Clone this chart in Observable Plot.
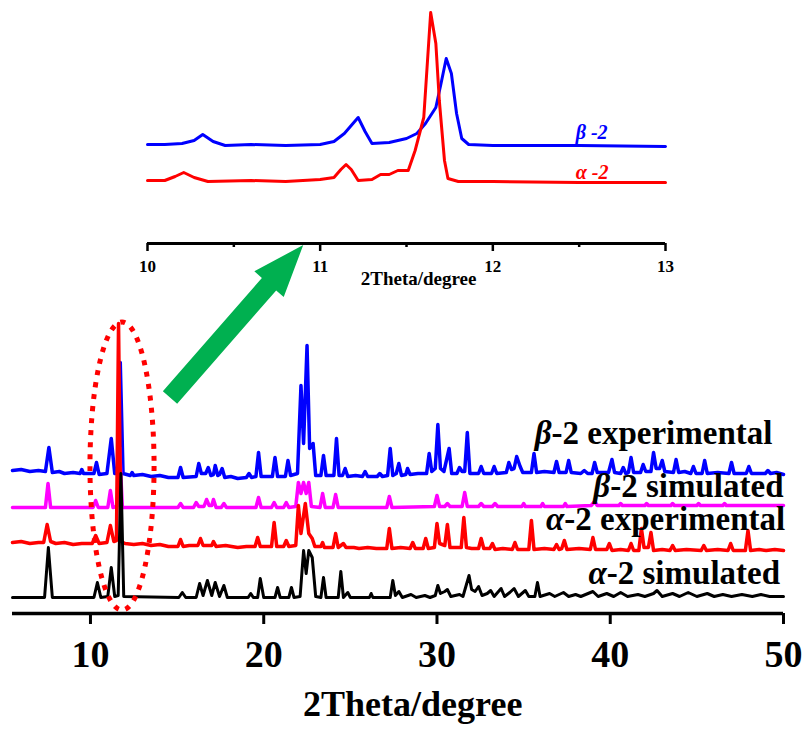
<!DOCTYPE html>
<html><head><meta charset="utf-8">
<script src="https://cdn.jsdelivr.net/npm/d3@7"></script>
<script src="https://cdn.jsdelivr.net/npm/@observablehq/plot@0.6"></script>
<style>
body{margin:0;background:#fff}
#wrap{position:relative;width:806px;height:730px}
#wrap svg{position:absolute;left:0;top:0;overflow:visible}
</style>
</head><body><div id="wrap"></div>
<script>
// ---- main pattern traces: [2Theta, offset intensity] ----
const alphaSim = [[5.5,16],[7.35,16],[7.57,66],[7.8,16],
[10.2,16],[10.4,31],[10.6,16],
[11.0,17],[11.2,46],[11.4,17],[11.6,18],[11.76,140],[11.92,17],
[15.1,16],[15.3,21],[15.5,16],
[16.1,16],[16.3,30],[16.5,18],[16.75,33],[17.0,18],[17.2,31],[17.45,17],[17.7,28],[17.9,16],
[19.1,16],[19.25,20],[19.4,16],[19.65,16],[19.8,35],[20.0,16],
[20.65,16],[20.8,26],[20.95,16],[21.45,16],[21.6,26],[21.75,16],
[22.1,17],[22.3,63],[22.45,40],[22.6,63],[22.8,56],[23.0,17],
[23.3,16],[23.45,36],[23.6,16],
[24.3,16],[24.45,42],[24.6,16],[24.85,21],[25.0,16],
[26.1,16],[26.2,20],[26.3,16],
[27.3,16],[27.45,33],[27.6,18],[27.8,22],[28.0,16],
[28.5,19],[28.8,16],[29.3,18],[29.6,16],
[29.9,18],[30.05,28],[30.2,20],[30.45,22],[30.6,24],[30.8,17],
[31.3,19],[31.5,17],[31.85,38],[32.0,24],[32.2,22],[32.4,27],[32.6,18],
[32.9,20],[33.1,23],[33.3,17],[33.7,25],[33.9,17],[34.2,21],[34.45,25],[34.7,17],[35.1,23],[35.3,17],
[35.65,17],[35.8,31],[35.95,17],
[36.5,20],[36.8,17],[37.3,21],[37.6,17],[38.0,19],[38.3,17],[39.0,22],[39.3,17],[39.8,20],[40.2,17],
[40.6,21],[41.0,17],[41.6,19],[42.0,17],[42.5,20],[42.7,23],[43.0,17],[43.6,20],[44.0,17],[44.5,21],
[45.0,17],[45.6,20],[46.0,17],[46.5,19],[47.0,17],[47.6,19],[48.2,17],[48.7,19],[49.2,17],[50,17]];

const alphaExp = [[5.5,71],[6.0,72],[6.5,70],[7.0,71],[7.3,71],[7.5,89],[7.7,72],[8.0,70],[8.5,71],[9.0,69],[9.5,70],
[10.1,70],[10.3,78],[10.5,70],
[10.95,71],[11.15,88],[11.35,72],[11.5,73],[11.62,290],[11.76,72],
[12.0,70],[12.5,69],[13.0,70],[13.5,68],[14.0,69],[14.5,67],
[15.05,67],[15.2,74],[15.35,67],[15.7,68],
[16.2,68],[16.35,75],[16.5,68],[17.0,68],[17.1,72],[17.25,67],
[17.8,68],[18.5,66],[19.0,67],[19.5,67],[19.65,76],[19.8,67],
[20.45,67],[20.6,91],[20.75,67],
[21.15,67],[21.3,73],[21.45,67],
[21.85,68],[22.0,108],[22.15,80],[22.4,110],[22.6,80],[22.8,75],[22.95,67],
[23.3,67],[23.4,71],[23.5,66],
[24.0,66],[24.15,80],[24.3,66],[24.6,70],[24.75,66],
[25.2,66],[25.5,65],[26.0,66],[26.5,65],
[27.1,65],[27.25,85],[27.4,65],
[27.9,66],[28.45,65],[28.6,71],[28.75,65],
[29.2,65],[29.35,75],[29.5,65],
[29.85,66],[30.0,90],[30.15,70],[30.45,68],[30.6,89],[30.75,66],
[31.1,66],[31.4,66],[31.55,96],[31.7,66],
[32.0,65],[32.4,65],[32.55,75],[32.7,65],[33.05,65],[33.2,70],[33.35,64],
[33.8,65],[34.35,64],[34.5,71],[34.65,64],
[35.3,64],[35.45,93],[35.6,64],
[36.2,65],[36.75,64],[36.9,69],[37.05,64],[37.2,65],[37.35,73],[37.5,64],
[38.2,65],[38.85,64],[39.0,76],[39.15,64],[39.8,64],[39.95,70],[40.1,63],
[40.6,64],[41.05,63],[41.2,70],[41.35,63],
[41.65,63],[41.8,85],[41.95,66],[42.2,66],[42.35,81],[42.5,63],
[43.0,64],[43.45,63],[43.6,68],[43.75,63],
[44.4,64],[45.25,63],[45.4,68],[45.55,63],
[46.2,64],[46.8,63],[46.95,70],[47.1,63],
[47.8,63],[47.95,83],[48.1,63],
[48.6,64],[49,63],[49.5,64],[50,63]];

const betaSim = [[5.5,106],[7.4,106],[7.55,130],[7.7,106],
[10.15,106],[10.3,113],[10.45,106],
[11.0,106],[11.15,123],[11.3,106],[11.52,107],[11.68,166],[11.84,106],
[15.05,106],[15.2,110],[15.35,106],
[15.95,106],[16.1,111],[16.25,107],[16.55,107],[16.7,114],[16.85,108],[17.0,108],[17.1,114],[17.25,106],[17.55,106],[17.7,110],[17.85,106],
[19.55,106],[19.7,116],[19.85,106],
[20.45,106],[20.6,111],[20.75,106],[21.15,106],[21.3,111],[21.45,106],
[21.85,107],[22.0,131],[22.15,120],[22.3,131],[22.45,120],[22.6,131],[22.75,107],
[23.25,106],[23.4,120],[23.55,106],
[24.0,106],[24.15,119],[24.3,106],
[27.1,106],[27.25,117],[27.4,106],
[29.85,107],[30.0,118],[30.15,107],
[30.45,107],[30.6,110],[30.75,107],
[31.45,107],[31.6,121],[31.75,107],
[32.4,107],[32.55,110],[32.7,107],
[33.2,107],[33.35,110],[33.5,107],
[34.9,107],[35.0,110],[35.1,107],
[36.0,107],[36.1,110],[36.2,107],
[37.3,107],[37.4,110],[37.5,107],
[38.9,108],[39.1,112],[39.25,108],
[40.5,108],[40.6,110],[40.7,108],
[42.0,108],[42.1,110],[42.2,108],
[43.5,108],[43.6,110],[43.7,108],
[45.0,108],[45.1,110],[45.2,108],
[46.5,108],[46.6,110],[46.7,108],
[50,108]];

const betaExp = [[5.5,143],[6.0,144],[6.5,142],[7.0,143],[7.4,142],[7.6,166],[7.8,141],
[8.2,142],[8.5,140],[9.0,141],[9.4,140],[9.5,144],[9.6,140],
[10.2,140],[10.35,151],[10.5,139],
[10.95,140],[11.2,175],[11.4,140],[11.56,140],[11.72,251],[11.88,140],
[12.3,138],[12.4,141],[12.5,138],[13.0,139],[13.5,137],[14.0,138],[14.5,136],
[15.05,136],[15.2,146],[15.35,136],
[16.1,137],[16.25,150],[16.4,140],[16.65,140],[16.8,146],[16.95,138],[17.1,139],[17.2,148],[17.35,138],[17.45,139],[17.6,145],[17.75,136],
[18.1,137],[18.5,135],[19.0,136],[19.15,140],[19.3,136],
[19.55,137],[19.7,161],[19.85,137],
[20.5,137],[20.65,156],[20.8,137],
[21.25,137],[21.4,153],[21.55,138],
[21.95,140],[22.15,228],[22.3,170],[22.5,268],[22.65,165],[22.85,170],[23.0,138],
[23.3,138],[23.45,158],[23.6,138],
[24.05,138],[24.2,175],[24.35,138],
[24.55,138],[24.7,145],[24.85,137],
[25.3,138],[25.7,137],[25.85,142],[26.0,137],
[26.55,137],[26.7,140],[26.85,137],
[27.15,138],[27.3,165],[27.45,138],
[27.65,140],[27.8,150],[27.95,138],
[28.2,139],[28.3,145],[28.45,139],
[28.9,140],[29.4,140],[29.55,160],[29.7,142],[29.9,145],[30.05,189],[30.2,145],[30.4,142],[30.7,165],[30.85,140],
[31.15,140],[31.3,146],[31.45,142],[31.6,142],[31.75,181],[31.9,140],
[32.4,140],[32.55,147],[32.7,140],[33.15,140],[33.3,147],[33.45,140],
[34.0,141],[34.15,151],[34.3,144],[34.45,145],[34.6,157],[34.8,147],[34.95,141],
[35.45,141],[35.6,160],[35.75,141],
[36.2,142],[36.75,141],[36.9,152],[37.05,141],
[37.45,141],[37.6,153],[37.75,141],
[38.3,140],[38.5,143],[38.7,140],
[38.95,140],[39.1,151],[39.25,141],
[39.9,141],[40.1,154],[40.25,141],
[40.6,140],[40.75,146],[40.9,140],
[41.05,141],[41.2,156],[41.35,141],[41.75,141],[41.9,149],[42.05,142],
[42.35,142],[42.5,161],[42.65,145],[42.85,145],[43.0,153],[43.15,142],
[43.65,141],[43.8,154],[43.95,141],
[44.3,142],[44.65,140],[44.8,147],[44.95,140],
[45.3,140],[45.45,153],[45.6,140],
[46.2,141],[46.85,140],[47.0,151],[47.15,140],
[47.85,140],[48.0,147],[48.15,140],
[48.95,140],[49.1,143],[49.25,140],[49.6,141],[50,139]];

// ---- inset traces (10-13 degrees) ----
const insetBeta = [[10.0,99],[10.1,99],[10.2,100],[10.27,103],[10.32,109],[10.38,102],[10.45,98],[10.6,99],[10.8,98],
[11.0,99],[11.08,102],[11.14,110],[11.18,118],[11.22,126],[11.26,112],[11.3,100],[11.4,101],[11.5,105],
[11.56,110],[11.61,120],[11.67,136],[11.70,160],[11.73,185],[11.76,170],[11.79,130],[11.82,105],[11.86,99],
[12.0,98],[12.5,98],[13.0,97]];
const insetAlpha = [[10.0,63],[10.1,63],[10.16,67],[10.21,71],[10.27,66],[10.35,62],[10.6,63],[10.8,62],
[11.0,64],[11.08,66],[11.12,74],[11.15,79],[11.18,74],[11.22,63],[11.3,64],[11.35,69],[11.4,69],[11.45,73],
[11.51,73],[11.55,93],[11.60,126],[11.64,231],[11.67,200],[11.69,143],[11.72,83],[11.74,65],[11.8,62],
[12.0,62],[12.5,61],[13.0,61]];

// ---- text ----
const mainTicks = [10, 20, 30, 40, 50];
const insetTicks = [10, 11, 12, 13];
const insetMinorTicks = [10.5, 11.5, 12.5];
const seriesLabels = ["β-2 experimental", "β-2 simulated", "α-2 experimental", "α-2 simulated"];
const insetLabels = ["β -2", "α -2"];
const axisTitle = "2Theta/degree";

// ---- annotation anchors (data units) ----
const ellipseCenter = [11.85, 147];
const ellipseRadius = [1.85, 144];
const arrowTail = [14.62, 215.5];
const arrowTip = [22.31, 368];

const FONT = "'Liberation Serif','Times New Roman',serif";
const baseStyle = {fontFamily: FONT, fontWeight: "bold", background: "transparent", overflow: "visible", color: "black"};
const X = d => d[0], Y = d => d[1];
const intFmt = d => String(d);

const labelX = [49.36, 50.0, 50.1, 49.8];
const labelY = [170, 117, 84, 30];

const main = Plot.plot({
  width: 806, height: 730,
  marginLeft: 12, marginRight: 23, marginTop: 313, marginBottom: 117,
  x: {domain: [5.5, 50]},
  y: {domain: [0, 300], axis: null},
  style: baseStyle,
  marks: [
    Plot.line(betaExp, {x: X, y: Y, stroke: "#0000ff", strokeWidth: 3.5}),
    Plot.line(betaSim, {x: X, y: Y, stroke: "#ff00ff", strokeWidth: 3.5}),
    Plot.line(alphaExp, {x: X, y: Y, stroke: "#ff0000", strokeWidth: 3.5}),
    Plot.line(alphaSim, {x: X, y: Y, stroke: "#000000", strokeWidth: 3}),
    Plot.ruleY([0], {strokeWidth: 3.5}),
    Plot.axisX({ticks: mainTicks, tickSize: 11, tickPadding: 16, tickFormat: intFmt, fontSize: 38, fontWeight: "bold", strokeWidth: 3, label: null}),
    Plot.text(seriesLabels, {x: (d, i) => labelX[i], y: (d, i) => labelY[i], text: d => d, textAnchor: "end", lineAnchor: "bottom", fontSize: 33, fontWeight: "bold", fill: "black"}),
    Plot.text([axisTitle], {x: 28.6, y: -102, text: d => d, lineAnchor: "bottom", fontSize: 36, fontWeight: "bold", fill: "black"})
  ]
});

const inset = Plot.plot({
  width: 806, height: 300,
  marginLeft: 147, marginRight: 141, marginTop: 0, marginBottom: 57,
  x: {domain: [10, 13]},
  y: {domain: [0, 243], axis: null},
  style: baseStyle,
  marks: [
    Plot.line(insetBeta, {x: X, y: Y, stroke: "#0000ff", strokeWidth: 3}),
    Plot.line(insetAlpha, {x: X, y: Y, stroke: "#ff0000", strokeWidth: 3}),
    Plot.ruleY([0], {strokeWidth: 3}),
    Plot.axisX({ticks: insetTicks, tickSize: 8, tickPadding: 8, tickFormat: intFmt, fontSize: 17, fontWeight: "bold", strokeWidth: 2.5, label: null}),
    Plot.axisX({ticks: insetMinorTicks, tickSize: 4, tickFormat: () => "", strokeWidth: 2.5, label: null}),
    Plot.text([insetLabels[0]], {x: 12.48, y: 105, text: d => d, textAnchor: "start", lineAnchor: "bottom", fontSize: 20, fontStyle: "italic", fontWeight: "bold", fill: "#0000ff"}),
    Plot.text([insetLabels[1]], {x: 12.48, y: 65, text: d => d, textAnchor: "start", lineAnchor: "bottom", fontSize: 20, fontStyle: "italic", fontWeight: "bold", fill: "#ff0000"}),
    Plot.text([axisTitle], {x: 11.57, y: -41, text: d => d, lineAnchor: "bottom", fontSize: 19, fontWeight: "bold", fill: "black"})
  ]
});

// italic Greek letters in the series labels
d3.select(main).selectAll("text").each(function () {
  const t = this.textContent;
  if (/^[αβ]/.test(t)) {
    const el = d3.select(this);
    el.selectAll("*").remove();
    el.text("");
    el.append("tspan").attr("font-style", "italic").text(t[0]);
    el.append("tspan").text(t.slice(1));
  }
});

// annotations positioned through the main plot's scales
const sx = main.scale("x"), sy = main.scale("y");
const svg = d3.select(main);
const cx = sx.apply(ellipseCenter[0]), cy = sy.apply(ellipseCenter[1]);
svg.append("ellipse")
  .attr("cx", cx).attr("cy", cy)
  .attr("rx", Math.abs(sx.apply(ellipseCenter[0] + ellipseRadius[0]) - cx))
  .attr("ry", Math.abs(sy.apply(ellipseCenter[1] + ellipseRadius[1]) - cy))
  .attr("fill", "none").attr("stroke", "#ff0000").attr("stroke-width", 5)
  .attr("stroke-dasharray", "5 7");

const tx = sx.apply(arrowTail[0]), ty = sy.apply(arrowTail[1]);
const hx = sx.apply(arrowTip[0]), hy = sy.apply(arrowTip[1]);
const L = Math.hypot(hx - tx, hy - ty), ux = (hx - tx) / L, uy = (hy - ty) / L, nx = -uy, ny = ux;
const HL = 52, HW = 19.5, SW = 9.5;
const bx = hx - ux * HL, by = hy - uy * HL;
const pts = [[tx + nx * SW, ty + ny * SW], [bx + nx * SW, by + ny * SW], [bx + nx * HW, by + ny * HW], [hx, hy],
  [bx - nx * HW, by - ny * HW], [bx - nx * SW, by - ny * SW], [tx - nx * SW, ty - ny * SW]];
svg.append("polygon").attr("points", pts.map(p => p.join(",")).join(" ")).attr("fill", "#00b050");

const wrap = document.getElementById("wrap");
wrap.appendChild(main);
wrap.appendChild(inset);
</script></body></html>
